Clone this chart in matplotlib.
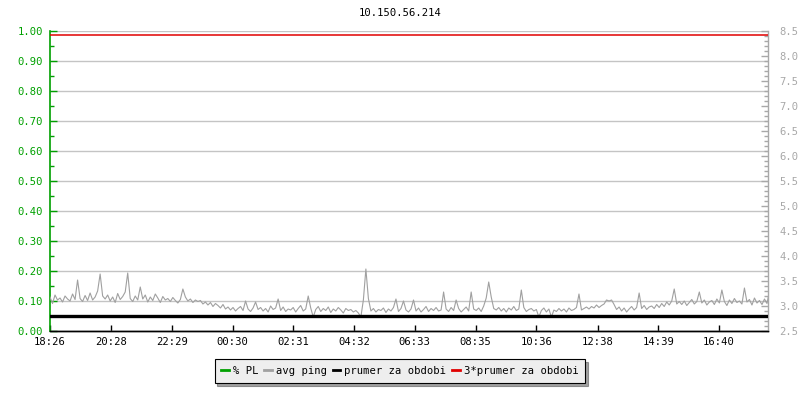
import numpy as np
import matplotlib.pyplot as plt
from matplotlib.lines import Line2D
from matplotlib.ticker import MultipleLocator

plt.rcParams['font.family'] = ['DejaVu Sans Mono']
plt.rcParams['font.size'] = 7.6

title = "10.150.56.214"

# tick labels (minutes from start of the 24h window)
tick_minutes = [0, 122, 243, 364, 485, 606, 727, 849, 970, 1092, 1213, 1334]
tick_labels = ["18:26", "20:28", "22:29", "00:30", "02:31", "04:32",
               "06:33", "08:35", "10:36", "12:38", "14:39", "16:40"]
span_minutes = 1432

# avg ping [ms], one row per hour, 5 min samples
avg_ping = [
    3.18, 3.05, 3.22, 3.12, 3.16, 3.08, 3.20, 3.14, 3.10, 3.24, 3.13, 3.52,
    3.15, 3.09, 3.21, 3.11, 3.26, 3.12, 3.18, 3.30, 3.64, 3.20, 3.14, 3.22,
    3.10, 3.18, 3.07, 3.25, 3.13, 3.19, 3.28, 3.66, 3.15, 3.09, 3.20, 3.12,
    3.38, 3.14, 3.22, 3.08, 3.18, 3.11, 3.24, 3.16, 3.07, 3.19, 3.12, 3.15,
    3.09, 3.17, 3.11, 3.06, 3.13, 3.34, 3.18, 3.10, 3.14, 3.07, 3.12, 3.09,
    3.11, 3.04, 3.08, 3.02, 3.07, 2.99, 3.05, 3.01, 2.96, 3.03, 2.94, 2.98,
    2.92, 2.97, 2.90, 2.95, 2.99, 2.91, 3.10, 2.94, 2.89, 2.96, 3.08, 2.93,
    2.97, 2.90, 2.95, 2.88, 3.00, 2.93, 2.96, 3.14, 2.91, 2.98, 2.89, 2.94,
    2.92, 2.97, 2.88, 2.95, 3.01, 2.90, 2.94, 3.20, 2.96, 2.78, 2.93, 2.99,
    2.89, 2.95, 2.91, 2.98, 2.87, 2.94, 2.90, 2.97, 2.92, 2.86, 2.95, 2.91,
    2.93, 2.88, 2.91, 2.86, 2.78, 3.12, 3.74, 3.15, 2.90, 2.95, 2.88, 2.93,
    2.91, 2.96, 2.87, 2.94, 2.90, 2.97, 3.14, 2.89, 2.95, 3.10, 2.92, 2.88,
    2.94, 3.12, 2.90, 2.96, 2.88, 2.93, 2.99, 2.89, 2.95, 2.91, 2.97, 2.90,
    2.92, 3.28, 2.94, 2.89, 2.97, 2.91, 3.12, 2.95, 2.88, 2.93, 2.98, 2.90,
    3.28, 2.94, 2.91, 2.96, 2.89, 3.00, 3.16, 3.48, 3.18, 2.95, 2.92, 2.97,
    2.90, 2.95, 2.88, 2.96, 2.92, 2.99, 2.91, 2.94, 3.32, 2.97, 2.89, 2.93,
    2.95, 2.90, 2.93, 2.78, 2.91, 2.96, 2.88, 2.94, 2.78, 2.92, 2.89, 2.95,
    2.90, 2.94, 2.88, 2.96, 2.91, 2.93, 2.97, 3.24, 2.92, 2.95, 2.98, 2.94,
    2.99, 2.96, 3.02, 2.97, 3.01, 3.04, 3.12, 3.10, 3.12, 3.03, 2.93, 2.98,
    2.90, 2.96, 2.88, 2.94, 2.99, 2.92, 2.97, 3.26, 2.95, 3.01, 2.93, 2.98,
    3.00, 2.95, 3.03, 2.97, 3.05, 2.99, 3.08, 3.02, 3.10, 3.34, 3.04, 3.09,
    3.03, 3.10, 3.01, 3.07, 3.13, 3.04, 3.09, 3.28, 3.06, 3.12, 3.02, 3.08,
    3.11, 3.03, 3.14, 3.06, 3.32, 3.09, 3.01, 3.12, 3.05, 3.15, 3.07, 3.10,
    3.04, 3.36, 3.08, 3.13, 3.02, 3.16, 3.06, 3.11, 3.03, 3.14, 3.05, 3.30,
]
prumer = 2.806
prumer3 = 8.42

green = '#00a000'
grey = '#a0a0a0'
gridgrey = '#c4c4c4'
labelgrey = '#a8a8a8'

t = np.linspace(0, span_minutes + 3, len(avg_ping))

fig = plt.figure(figsize=(8, 4), dpi=100)
ax1 = fig.add_axes([50 / 800, 1 - 331 / 400, 718 / 800, 300 / 400])
ax2 = ax1.twinx()

ax1.set_xlim(0, span_minutes)
ax1.set_ylim(0, 1)
ax2.set_ylim(2.5, 8.5)

ax2.plot(t, avg_ping, color=grey, lw=0.8, zorder=2)
ax2.axhline(prumer, color='black', lw=2.4, zorder=3)
ax2.axhline(prumer3, color='#e00000', lw=1.1, zorder=3)

# left axis (% PL)
ax1.yaxis.set_major_locator(MultipleLocator(0.1))
ax1.yaxis.set_minor_locator(MultipleLocator(0.05))
ax1.yaxis.set_major_formatter(lambda v, p: "%.2f" % v)
ax1.tick_params(axis='y', which='major', direction='in', length=5, width=1,
                colors=green, pad=5)
ax1.tick_params(axis='y', which='minor', direction='in', length=3, width=1,
                colors=green)
ax1.grid(axis='y', color=gridgrey, lw=1)
ax1.set_axisbelow(True)

ax1.set_xticks(tick_minutes)
ax1.set_xticklabels(tick_labels)
ax1.tick_params(axis='x', direction='in', length=4, width=1, color='black',
                labelcolor='black', pad=4)

# right axis (avg ping)
ax2.yaxis.set_major_locator(MultipleLocator(0.5))
ax2.yaxis.set_minor_locator(MultipleLocator(0.1))
ax2.yaxis.set_major_formatter(lambda v, p: "%.1f" % v)
ax2.tick_params(axis='y', which='major', direction='in', length=5, width=1,
                color=labelgrey, labelcolor=labelgrey, pad=8)
ax2.tick_params(axis='y', which='minor', direction='in', length=3, width=1,
                color=labelgrey)

for ax in (ax1, ax2):
    ax.spines['top'].set_visible(False)
    ax.spines['bottom'].set_color('black')
    ax.spines['bottom'].set_linewidth(1)
ax1.spines['right'].set_visible(False)
ax2.spines['left'].set_visible(False)
ax1.spines['left'].set_color(green)
ax1.spines['left'].set_linewidth(1.2)
ax2.spines['right'].set_color(labelgrey)
ax2.spines['right'].set_linewidth(1)

fig.text(0.5, 1 - 13 / 400, title, ha='center', va='center')

handles = [Line2D([], [], color=green, lw=2),
           Line2D([], [], color=grey, lw=2),
           Line2D([], [], color='black', lw=2),
           Line2D([], [], color='#e00000', lw=2)]
labels = ["% PL", "avg ping", "prumer za obdobi", "3*prumer za obdobi"]
leg = fig.legend(handles, labels, loc='center', bbox_to_anchor=(0.5, 1 - 371 / 400),
                 ncol=4, fancybox=False, shadow=True, framealpha=1,
                 facecolor='#eeeeee', edgecolor='black', handlelength=0.7,
                 handletextpad=0.4, columnspacing=0.55, borderpad=0.65,
                 borderaxespad=0)
leg.get_frame().set_linewidth(0.8)

fig.savefig("out.png", dpi=100)
